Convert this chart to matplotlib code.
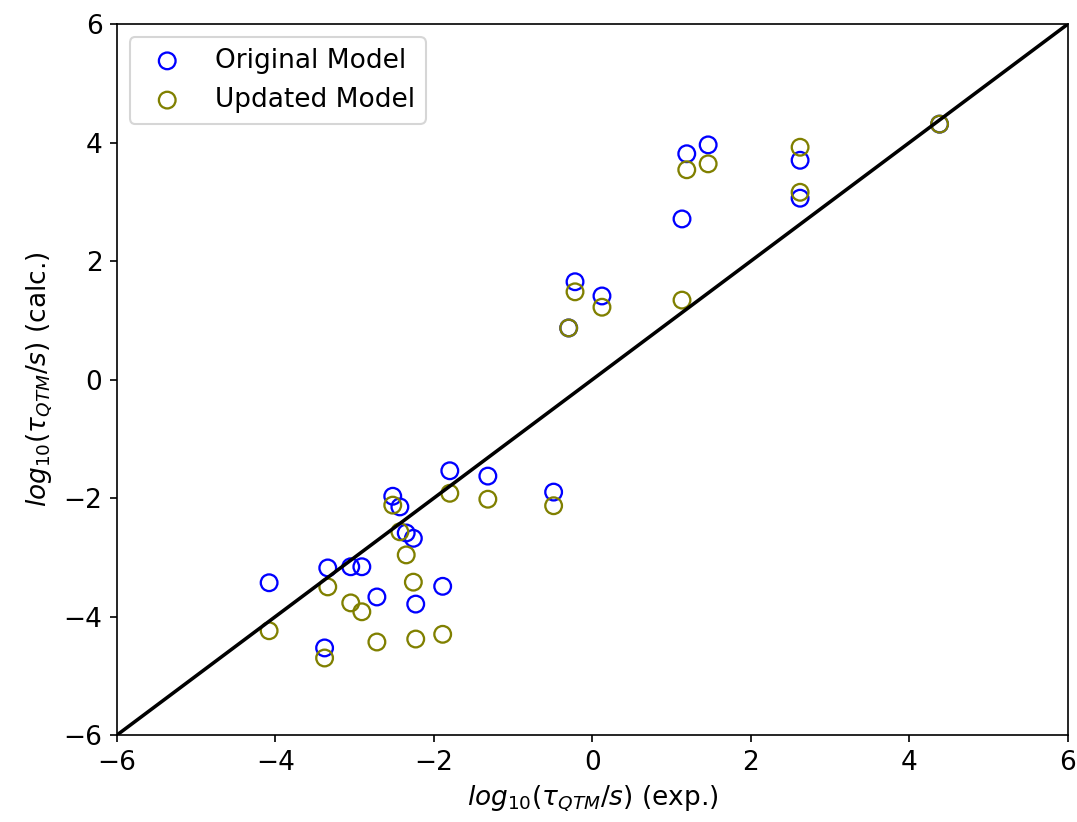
import numpy as np
import matplotlib
matplotlib.use("Agg")
import matplotlib.pyplot as plt

# log10(tau_QTM / s): experimental vs calculated
exp_vals = [-4.08, -3.34, -3.38, -3.05, -2.91, -2.72, -2.52, -2.43, -2.35, -2.26,
            -2.23, -1.89, -1.80, -1.32, -0.49, -0.30, -0.22, 0.12, 1.13, 1.19,
            1.46, 2.62, 2.62, 4.38]
orig_calc = [-3.43, -3.18, -4.53, -3.16, -3.16, -3.67, -1.97, -2.15, -2.59, -2.68,
             -3.79, -3.49, -1.54, -1.63, -1.90, 0.87, 1.65, 1.41, 2.71, 3.81,
             3.96, 3.70, 3.06, 4.31]
upd_calc = [-4.24, -3.50, -4.70, -3.77, -3.92, -4.43, -2.12, -2.57, -2.96, -3.42,
            -4.38, -4.30, -1.92, -2.02, -2.13, 0.87, 1.48, 1.22, 1.34, 3.54,
            3.64, 3.92, 3.16, 4.31]

plt.rcParams['font.size'] = 12.7

fig = plt.figure(figsize=(1077/150, 822/150), dpi=150)
ax = fig.add_axes([0.1086, 0.1058, 0.883, 0.865])

ax.scatter(exp_vals, orig_calc, s=64, facecolors='none', edgecolors='b',
           linewidths=1.1, label='Original Model')
ax.scatter(exp_vals, upd_calc, s=64, facecolors='none', edgecolors='olive',
           linewidths=1.1, label='Updated Model')

lims = np.array([-6, 6])
ax.plot(lims, lims, color='k', linewidth=1.7)

ax.set_xlim(-6, 6)
ax.set_ylim(-6, 6)
ax.set_xticks(np.arange(-6, 7, 2))
ax.set_yticks(np.arange(-6, 7, 2))
ax.set_xlabel(r'$log_{10}(\tau_{QTM}/s)$ (exp.)')
ax.set_ylabel(r'$log_{10}(\tau_{QTM}/s)$ (calc.)')
ax.legend(loc='upper left')

fig.savefig('out.png', dpi=150)
